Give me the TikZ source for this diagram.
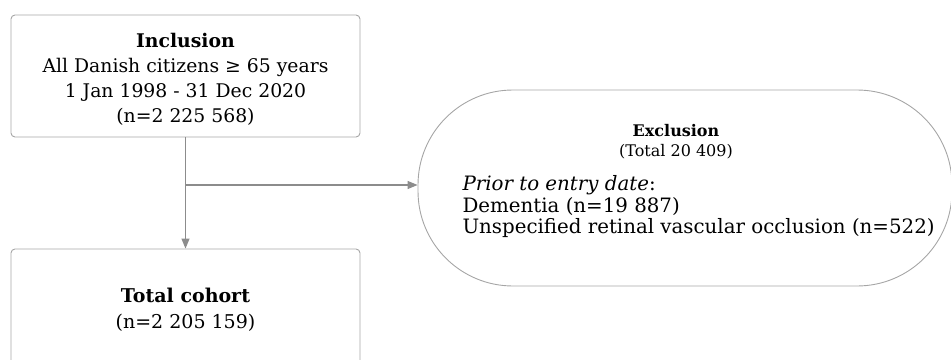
\documentclass[tikz,border=0pt]{standalone}
\usepackage{fontspec}
\setmainfont{DejaVu Serif}
\usetikzlibrary{arrows.meta}

\definecolor{linegray}{HTML}{8C8C8C}
\definecolor{boxgray}{HTML}{A6A6A6}

\tikzset{
    flowbox/.style={draw=boxgray, line width=0.9pt, rounded corners=4pt, minimum width=349pt},
    flowline/.style={draw=linegray, line width=1.1pt},
    flowarrow/.style={flowline, -{Triangle[length=10pt, width=8pt]}, color=linegray}
}

\begin{document}
\begin{tikzpicture}[x=1pt, y=-1pt]
    \useasboundingbox (0,0) rectangle (951,359);

    % Inclusion
    \node[flowbox, minimum height=122pt] (incl) at (185.5,76) {};
    \node[align=center, font=\fontsize{18.8}{25}\selectfont] (incltext) at (185.5,79.5)
        {\textbf{Inclusion}\\All Danish citizens ≥ 65 years\\1 Jan 1998 - 31 Dec 2020\\(n=2 225 568)};

    % Total cohort
    \node[flowbox, minimum height=160pt] (total) at (185.5,329) {};
    \node[align=center, font=\fontsize{19}{25.5}\selectfont] (totaltext) at (185.5,310) {\textbf{Total cohort}\\(n=2 205 159)};

    % Exclusion
    \node[draw=boxgray, line width=0.9pt, rounded corners=95pt, minimum width=534pt, minimum height=196pt]
        (excl) at (685,188) {};
    \node[align=center, font=\fontsize{16}{20}\selectfont] (exclhead) at (676,142) {\textbf{Exclusion}\\(Total 20 409)};
    \node[align=left, anchor=west, font=\fontsize{19.8}{21.5}\selectfont] (excltext) at (459,207)
        {\textit{Prior to entry date}:\\Dementia (n=19 887)\\Unspecified retinal vascular occlusion (n=522)};

    % Arrows
    \coordinate (branch) at (185.5,185);
    \draw[flowarrow] (incl.south) -- (total.north);
    \draw[flowarrow] (branch) -- (branch -| excl.west);
\end{tikzpicture}
\end{document}
